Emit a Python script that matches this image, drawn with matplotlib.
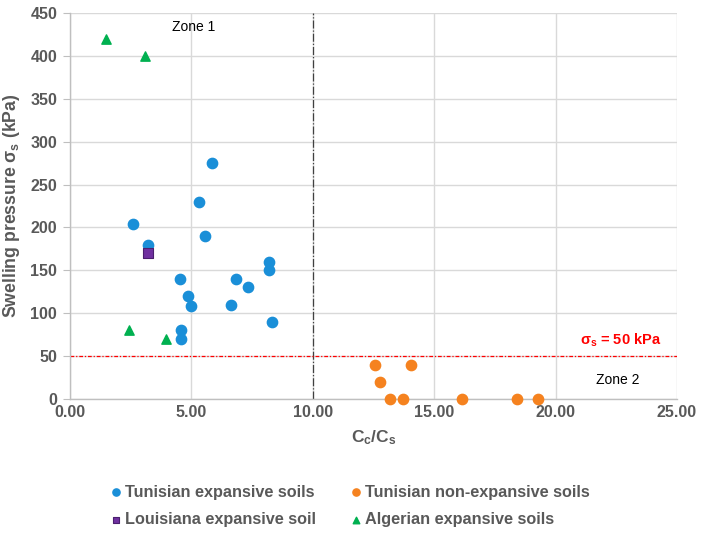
import matplotlib
matplotlib.use("Agg")
import matplotlib.pyplot as plt

plt.rcParams['font.family'] = ['Liberation Sans', 'DejaVu Sans']
plt.rcParams['mathtext.fontset'] = 'custom'
plt.rcParams['mathtext.rm'] = 'Liberation Sans:bold'
plt.rcParams['mathtext.it'] = 'Liberation Sans:bold'
plt.rcParams['mathtext.bf'] = 'Liberation Sans:bold'

# Data
tun_exp_x = [2.6, 3.24, 5.87, 5.34, 5.58, 4.55, 4.85, 5.01, 4.6, 4.6, 6.83, 7.32, 6.65, 8.2, 8.2, 8.32]
tun_exp_y = [204, 180, 275, 230, 190, 140, 120, 108, 80, 70, 140, 130, 110, 160, 150, 90]
tun_non_x = [12.55, 14.06, 12.77, 13.2, 13.72, 16.16, 18.4, 19.28]
tun_non_y = [40, 40, 20, 0, 0, 0, 0, 0]
lou_x = [3.22]
lou_y = [170]
alg_x = [1.48, 3.09, 2.46, 3.97]
alg_y = [420, 400, 80, 70]
x_ticks = [0, 5, 10, 15, 20, 25]
y_ticks = [0, 50, 100, 150, 200, 250, 300, 350, 400, 450]

fig = plt.figure(figsize=(7.06, 5.33), dpi=100)
ax = fig.add_axes([0.0987, 0.2514, 0.8603, 0.7242])

grey = '#595959'
ax.set_xlim(0, 25)
ax.set_ylim(0, 450)
ax.set_xticks(x_ticks)
ax.set_xticklabels([f'{v:.2f}' for v in x_ticks])
ax.set_yticks(y_ticks)
ax.grid(True, color='#d9d9d9', linewidth=1.0)
ax.set_axisbelow(True)
for s in ['top', 'right']:
    ax.spines[s].set_visible(False)
for s in ['left', 'bottom']:
    ax.spines[s].set_color('#bfbfbf')
    ax.spines[s].set_linewidth(1.0)
ax.tick_params(axis='y', length=5, color='#bfbfbf', labelsize=11.5, labelcolor=grey, pad=4)
ax.tick_params(axis='x', length=0, labelsize=11.5, labelcolor=grey, pad=4)
for lab in ax.get_xticklabels() + ax.get_yticklabels():
    lab.set_fontweight('bold')

ax.axvline(10, color='#404040', linestyle='-.', linewidth=0.9, zorder=2)
ax.axhline(50, color='#ff0000', linestyle=(0, (3, 1.5, 1, 1.5)), linewidth=0.9, zorder=2)

h1 = ax.scatter(tun_exp_x, tun_exp_y, s=55, marker='o', color='#1a8fd8', zorder=3, label='Tunisian expansive soils')
h2 = ax.scatter(tun_non_x, tun_non_y, s=55, marker='o', color='#f5821f', zorder=3, label='Tunisian non-expansive soils', clip_on=False)
h3 = ax.scatter(lou_x, lou_y, s=50, marker='s', color='#7030a0', edgecolor='#4b1f6f', linewidth=0.8, zorder=3, label='Louisiana expansive soil')
h4 = ax.scatter(alg_x, alg_y, s=45, marker='^', color='#00b050', zorder=3, label='Algerian expansive soils')

ax.text(5.09, 434, 'Zone 1', ha='center', va='center', fontsize=10, color='black')
ax.text(22.54, 22, 'Zone 2', ha='center', va='center', fontsize=10, color='black')
ax.text(22.67, 68, 'σ$_\\mathrm{s}$ = 50 kPa', ha='center', va='center', fontsize=10.5,
        color='#ff0000', fontweight='bold')

ax.set_xlabel('C$_\\mathrm{c}$/C$_\\mathrm{s}$', fontsize=12.5, fontweight='bold', color=grey, labelpad=6)
ax.set_ylabel('Swelling pressure σ$_\\mathrm{s}$ (kPa)', fontsize=12.7, fontweight='bold', color=grey, labelpad=6)

leg = fig.legend([h1, h3, h2, h4],
                 ['Tunisian expansive soils', 'Louisiana expansive soil',
                  'Tunisian non-expansive soils', 'Algerian expansive soils'],
                 ncol=2, loc='center', bbox_to_anchor=(0.494, 0.051), frameon=False,
                 fontsize=11.7, handletextpad=0.05, columnspacing=2.0, labelspacing=0.75,
                 markerscale=0.7, handlelength=1.0)
for t in leg.get_texts():
    t.set_fontweight('bold')
    t.set_color(grey)

fig.savefig('out.png', dpi=100)
